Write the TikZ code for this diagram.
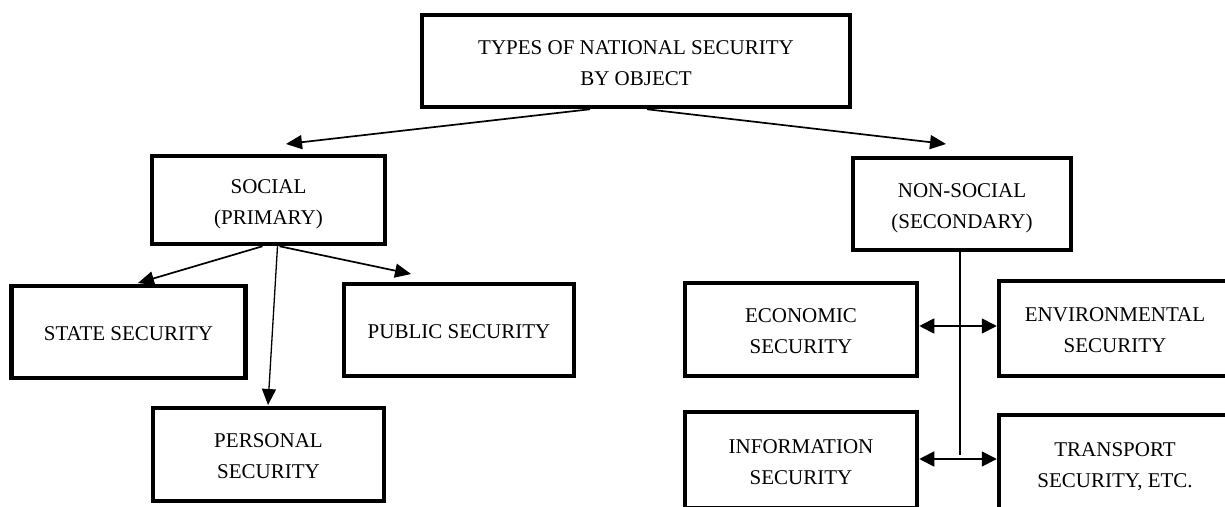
\documentclass[tikz,border=0pt]{standalone}
\usepackage{fontspec}
\setmainfont{Liberation Serif}
\usetikzlibrary{arrows.meta}
\newcommand\bxtext[1]{\vbox{\vskip5pt\hbox{\begin{tabular}{@{}c@{}}#1\end{tabular}}}}
\tikzset{
  boxnode/.style={draw, line width=4.5pt, inner sep=0pt,
    font=\fontsize{21}{31}\selectfont, text=black},
  conn/.style={line width=1.7pt, -{Triangle[length=16pt,width=14pt]}},
  dblconn/.style={line width=1.7pt, {Triangle[length=15pt,width=15pt]}-{Triangle[length=15pt,width=15pt]}},
  plainconn/.style={line width=1.4pt}
}
\begin{document}
\begin{tikzpicture}[x=1pt,y=-1pt]
\useasboundingbox (0,0) rectangle (1225,506);
\clip (0,0) rectangle (1225,506);
\fill[white] (0,0) rectangle (1225,506);

\node[boxnode, minimum width=428pt, minimum height=92pt] (top) at (636,61) {\bxtext{TYPES OF NATIONAL SECURITY\\BY OBJECT}};
\node[boxnode, minimum width=233pt, minimum height=88pt] (social) at (268.5,200) {\bxtext{SOCIAL\\(PRIMARY)}};
\node[boxnode, minimum width=218pt, minimum height=92pt] (nonsocial) at (962,204) {\bxtext{NON-SOCIAL\\(SECONDARY)}};
\node[boxnode, minimum width=234pt, minimum height=92pt] (state) at (128.5,332) {\bxtext{STATE SECURITY}};
\node[boxnode, minimum width=230pt, minimum height=92pt] (public) at (459,330) {\bxtext{PUBLIC SECURITY}};
\node[boxnode, minimum width=231pt, minimum height=93pt] (personal) at (268.5,454.5) {\bxtext{PERSONAL\\SECURITY}};
\node[boxnode, minimum width=232pt, minimum height=93pt] (economic) at (801,329.5) {\bxtext{ECONOMIC\\SECURITY}};
\node[boxnode, minimum width=232pt, minimum height=95pt] (environmental) at (1115,328.5) {\bxtext{ENVIRONMENTAL\\SECURITY}};
\node[boxnode, minimum width=232pt, minimum height=96pt] (information) at (801,460) {\bxtext{INFORMATION\\SECURITY}};
\node[boxnode, minimum width=232pt, minimum height=96pt] (transport) at (1115,463) {\bxtext{TRANSPORT\\SECURITY, ETC.}};

% free ends of connectors
\coordinate (socialin) at (286,144);
\coordinate (nonsocialin) at (946,144);
\coordinate (statein) at (138,283);
\coordinate (personalin) at (268,405);
\coordinate (publicin) at (411,274);
\coordinate (row1) at (960,326);
\coordinate (row2) at (960,459);
\coordinate (vend) at (960,455);

\draw[conn] ([xshift=-46pt]top.south) -- (socialin);
\draw[conn] ([xshift=11pt]top.south) -- (nonsocialin);

\draw[conn] ([xshift=-6pt]social.south) -- (statein);
\draw[conn, line width=1.3pt] ([xshift=9pt]social.south) -- (personalin);
\draw[conn] ([xshift=11pt]social.south) -- (publicin);

\draw[plainconn] (nonsocial.south -| vend) -- (vend);
\draw[dblconn] (economic.east |- row1) -- (environmental.west |- row1);
\draw[dblconn] (information.east |- row2) -- (transport.west |- row2);
\end{tikzpicture}
\end{document}
